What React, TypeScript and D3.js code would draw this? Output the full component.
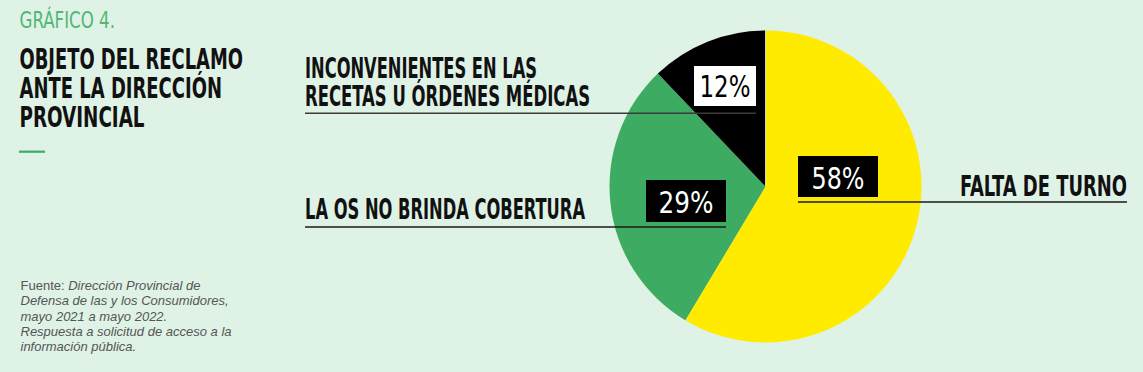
import React, { useEffect, useRef } from "react";
import * as d3 from "d3";

// datos del gráfico
const categories = ["FALTA DE TURNO", "LA OS NO BRINDA COBERTURA", "INCONVENIENTES EN LAS RECETAS U ÓRDENES MÉDICAS"];
const values = [58, 29, 12];
const sliceColors = ["#ffeb00", "#3dab61", "#000000"];
const labelLines = [["FALTA DE TURNO"], ["LA OS NO BRINDA COBERTURA"], ["INCONVENIENTES EN LAS", "RECETAS U ÓRDENES MÉDICAS"]];

const titleLines = ["OBJETO DEL RECLAMO", "ANTE LA DIRECCIÓN", "PROVINCIAL"];
const sourceLines = [
  ["Fuente: ", "Dirección Provincial de"],
  ["", "Defensa de las y los Consumidores,"],
  ["", "mayo 2021 a mayo 2022."],
  ["", "Respuesta a solicitud de acceso a la"],
  ["", "información pública."],
];

const W = 1143;
const H = 372;
const BG = "#dff2e6";
const COND = "'Liberation Sans Narrow', 'DejaVu Sans Condensed', 'Roboto', sans-serif";

// where each annotation sits (box, leader line, label)
const annot = [
  { box: [798, 156, 80, 41], boxFill: "#000", txtFill: "#fff", txtW: 53, base: 188.5,
    line: [798, 1127, 202], label: { x: 1127, anchor: "end", bases: [195.7], widths: [167] } },
  { box: [646, 180, 80, 42], boxFill: "#000", txtFill: "#fff", txtW: 55, base: 213.3,
    line: [305, 726, 227], label: { x: 305, anchor: "start", bases: [219.3], widths: [280] } },
  { box: [694, 66, 62, 40], boxFill: "#fff", txtFill: "#000", txtW: 51, base: 96.7,
    line: [305, 756, 113.3], label: { x: 305, anchor: "start", bases: [78.3, 106], widths: [232, 285] } },
];

const App = () => {
  const ref = useRef<SVGSVGElement>(null);

  useEffect(() => {
    const svg = d3.select(ref.current);
    svg.selectAll("*").remove();

    svg.append("rect").attr("width", W).attr("height", H).attr("fill", BG);

    // pie
    const cx = 765.5, cy = 186.5, r = 156;
    const pie = d3.pie<number>().sort(null).value((d) => d);
    const arc = d3.arc<d3.PieArcDatum<number>>().innerRadius(0).outerRadius(r);
    svg.append("g")
      .attr("transform", `translate(${cx},${cy})`)
      .selectAll("path")
      .data(pie(values))
      .join("path")
      .attr("d", arc)
      .attr("fill", (d, i) => sliceColors[i]);

    // thin light seam at 12 o'clock
    svg.append("line")
      .attr("x1", cx).attr("x2", cx).attr("y1", cy - r).attr("y2", cy)
      .attr("stroke", "#e8f4ec").attr("stroke-width", 0.8);

    // annotations
    annot.forEach((a, i) => {
      const [bx, by, bw, bh] = a.box;
      svg.append("line")
        .attr("x1", a.line[0]).attr("x2", a.line[1])
        .attr("y1", a.line[2]).attr("y2", a.line[2])
        .attr("stroke", i === 2 ? "#3a3a3a" : "#1a1a1a")
        .attr("stroke-width", 1.6);
      svg.append("rect")
        .attr("x", bx).attr("y", by).attr("width", bw).attr("height", bh)
        .attr("fill", a.boxFill);
      svg.append("text")
        .attr("x", bx + bw / 2).attr("y", a.base)
        .attr("text-anchor", "middle")
        .attr("font-family", COND)
        .attr("font-weight", 500)
        .attr("font-size", 30.5)
        .attr("fill", a.txtFill)
        .attr("textLength", a.txtW)
        .attr("lengthAdjust", "spacingAndGlyphs")
        .text(`${values[i]}%`);
      labelLines[i].forEach((t, j) => {
        svg.append("text")
          .attr("x", a.label.x).attr("y", a.label.bases[j])
          .attr("text-anchor", a.label.anchor)
          .attr("font-family", COND)
          .attr("font-weight", "bold")
          .attr("font-size", 28)
          .attr("fill", "#111")
          .attr("textLength", a.label.widths[j])
          .attr("lengthAdjust", "spacingAndGlyphs")
          .text(t);
      });
    });

    // title block
    svg.append("text")
      .attr("x", 19.5).attr("y", 28.3)
      .attr("font-family", COND)
      .attr("font-size", 23.5)
      .attr("fill", "#52b676")
      .attr("textLength", 95.5)
      .attr("lengthAdjust", "spacingAndGlyphs")
      .text("GRÁFICO 4.");

    const tw = [223.5, 202.5, 125];
    titleLines.forEach((t, i) => {
      svg.append("text")
        .attr("x", 19.5).attr("y", 69 + i * 28.8)
        .attr("font-family", COND)
        .attr("font-weight", "bold")
        .attr("font-size", 28.5)
        .attr("fill", "#111")
        .attr("textLength", tw[i])
        .attr("lengthAdjust", "spacingAndGlyphs")
        .text(t);
    });

    svg.append("line")
      .attr("x1", 19).attr("x2", 45).attr("y1", 151.7).attr("y2", 151.7)
      .attr("stroke", "#3dab61").attr("stroke-width", 2.2);

    // fuente
    const src = svg.append("g")
      .attr("font-family", "'Liberation Sans', Arial, sans-serif")
      .attr("font-size", 13)
      .attr("fill", "#555");
    sourceLines.forEach((ln, i) => {
      const t = src.append("text").attr("x", 20.5).attr("y", 290 + i * 15.3);
      if (ln[0]) t.append("tspan").text(ln[0]);
      t.append("tspan").attr("font-style", "italic").text(ln[1]);
    });
  }, []);

  return (
    <div style={{ position: "absolute", left: 0, top: 0 }}>
      <svg ref={ref} width={W} height={H} style={{ display: "block" }}></svg>
    </div>
  );
};

export default App;
